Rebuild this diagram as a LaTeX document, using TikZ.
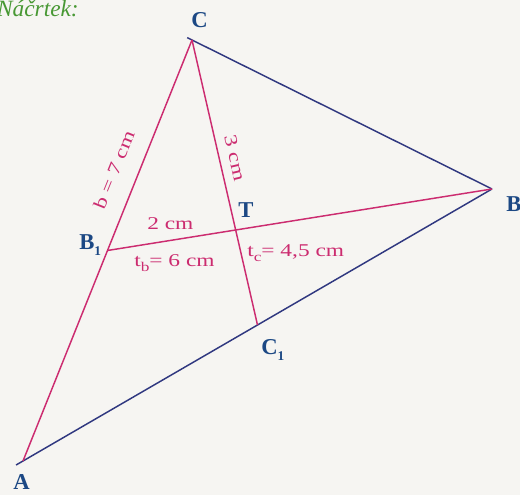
\documentclass[tikz,border=0pt]{standalone}
\usepackage{fontspec}
\setmainfont{Liberation Serif}
\newfontfamily\wideserif[FakeStretch=1.3]{Liberation Serif}
\usetikzlibrary{calc}
\definecolor{paper}{RGB}{246,245,242}
\definecolor{medpink}{RGB}{204,44,112}
\definecolor{sideblue}{RGB}{48,56,128}
\definecolor{vertblue}{RGB}{28,72,132}
\definecolor{notegreen}{RGB}{72,152,52}
\newcommand{\lowidx}[1]{\raisebox{-0.55ex}{\fontsize{10}{11}\selectfont #1}}

\begin{document}
\begin{tikzpicture}[x=0.75pt, y=0.75pt,
  vert/.style={font=\fontsize{17}{20}\selectfont\bfseries, text=vertblue, inner sep=0pt, anchor=base west},
  meas/.style={font=\wideserif\fontsize{13.5}{16}\selectfont, text=medpink, inner sep=0pt},
  side/.style={draw=sideblue, line width=1.1pt},
  median/.style={draw=medpink, line width=1.1pt}]
\fill[paper] (0,0) rectangle (520,495);
\useasboundingbox (0,0) rectangle (520,495);
\coordinate (A) at (23,34);
\coordinate (B) at (492,306);
\coordinate (C) at (192,455);
\coordinate (B1) at ($(A)!0.5!(C)$);
\coordinate (C1) at ($(A)!0.5!(B)$);
\coordinate (T) at ($(C)!2/3!(C1)$);
\draw[side] ($(A)!-6pt!(B)$) -- (B);
\draw[side] ($(C)!-4pt!(B)$) -- (B);
\draw[median] (A) -- (C);
\draw[median] (B) -- (B1);
\draw[median] (C) -- (C1);
\node[font=\itshape\fontsize{17.5}{20}\selectfont, text=notegreen, inner sep=0pt, anchor=base east] (title) at (79,478) {Náčrtek:};
\node[vert] (Clab) at (191,467) {C};
\node[vert] (Blab) at (506,283) {B};
\node[vert] (Alab) at (13,5) {A};
\node[vert] (B1lab) at (79,245) {B\lowidx{1}};
\node[vert] (C1lab) at (261,140) {C\lowidx{1}};
\node[vert] (Tlab) at (238,277) {T};
\node[meas, rotate=68] (blen) at (114,325) {b = 7 cm};
\node[meas, rotate=-76.9] (ctlen) at (235,337) {3 cm};
\node[meas, anchor=base west] (btlen) at (147,265) {2 cm};
\node[meas, anchor=base west] (tblen) at (134,228) {t\lowidx{b}= 6 cm};
\node[meas, anchor=base west] (tclen) at (247,238) {t\lowidx{c}= 4,5 cm};
\end{tikzpicture}
\end{document}
